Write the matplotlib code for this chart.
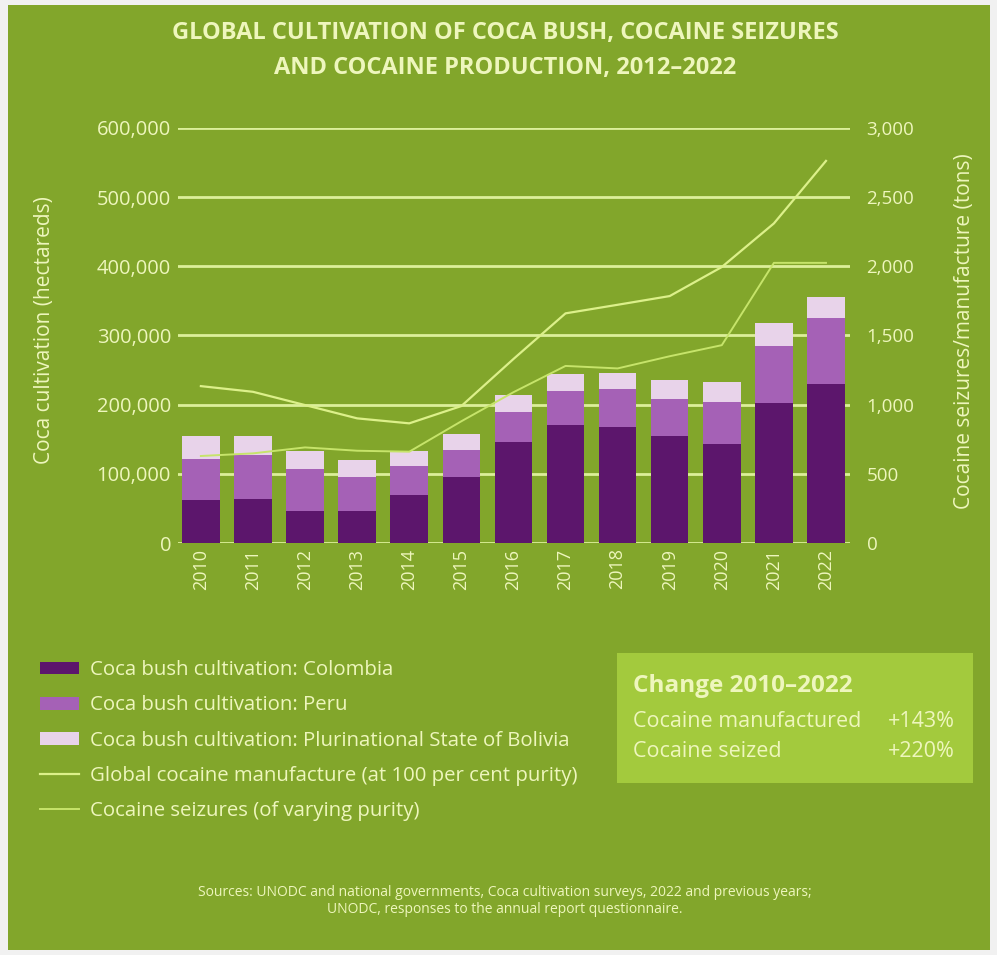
import numpy as np
import matplotlib
matplotlib.use("Agg")
import matplotlib.pyplot as plt
from matplotlib.patches import Patch, Rectangle
from matplotlib.lines import Line2D
from matplotlib.ticker import FuncFormatter

# ---- data ----
years = ["2010", "2011", "2012", "2013", "2014", "2015", "2016",
         "2017", "2018", "2019", "2020", "2021", "2022"]
colombia = [62000, 64000, 47000, 47000, 69000, 95000, 146000,
            170000, 168000, 154000, 143000, 203000, 230000]
peru = [60000, 63000, 60000, 49000, 43000, 40000, 43000,
        50000, 54000, 54000, 61000, 82000, 95000]
bolivia = [32000, 28000, 26000, 24000, 21000, 22000, 25000,
           25000, 24000, 27000, 29000, 33000, 30000]
manufacture = [1134, 1093, 997, 901, 865, 990, 1330,
               1660, 1722, 1785, 1995, 2310, 2762]
seizures = [629, 648, 691, 667, 660, 880, 1090,
            1280, 1262, 1350, 1430, 2025, 2025]

legend_labels = [
    "Coca bush cultivation: Colombia",
    "Coca bush cultivation: Peru",
    "Coca bush cultivation: Plurinational State of Bolivia",
    "Global cocaine manufacture (at 100 per cent purity)",
    "Cocaine seizures (of varying purity)",
]

# ---- style ----
BG = "#82a62b"
BOX = "#a3ca3d"
TXT = "#eef6bd"
GRID = "#dcef9a"
C_COL = "#5c166c"
C_PER = "#a561b6"
C_BOL = "#e8d3ea"
C_MAN = "#dcf08a"
C_SEI = "#c6e46a"

plt.rcParams["font.family"] = ["Open Sans", "DejaVu Sans"]

fig = plt.figure(figsize=(9.97, 9.55), dpi=100, facecolor="#f1f1f1")
fig.patches.append(Rectangle((0.008, 0.005), 0.985, 0.9895,
                             transform=fig.transFigure, facecolor=BG,
                             edgecolor="none", zorder=-2))

ax = fig.add_axes([0.1785, 0.4314, 0.674, 0.4346])
ax.patch.set_visible(False)
x = np.arange(len(years))
w = 0.72
col = np.array(colombia)
per = np.array(peru)
bol = np.array(bolivia)
ax.bar(x, col, width=w, color=C_COL, zorder=2)
ax.bar(x, per, width=w, bottom=col, color=C_PER, zorder=2)
ax.bar(x, bol, width=w, bottom=col + per, color=C_BOL, zorder=2)

ax.set_xlim(-0.44, 12.46)
ax.set_ylim(0, 600000)
ax.set_yticks(np.arange(0, 600001, 100000))
ax.yaxis.set_major_formatter(FuncFormatter(lambda v, p: f"{v:,.0f}"))
ax.grid(axis="y", color=GRID, linewidth=2, zorder=0)
ax.set_axisbelow(True)
ax.set_xticks(x)
ax.set_xticklabels(years, rotation=90, color=TXT, fontsize=13)
ax.tick_params(axis="both", length=0, colors=TXT)
ax.tick_params(axis="x", pad=4, labelsize=13)
ax.tick_params(axis="y", pad=5, labelsize=14.5)
for s in ax.spines.values():
    s.set_visible(False)
ax.set_ylabel("Coca cultivation (hectareds)", color=TXT, fontsize=15,
              va="center")
ax.yaxis.set_label_coords(-0.198, 0.513)

ax2 = ax.twinx()
ax2.plot(x, manufacture, color=C_MAN, linewidth=1.6, zorder=3)
ax2.plot(x, seizures, color=C_SEI, linewidth=1.4, zorder=3)
ax2.set_ylim(0, 3000)
ax2.set_yticks(np.arange(0, 3001, 500))
ax2.yaxis.set_major_formatter(FuncFormatter(lambda v, p: f"{v:,.0f}"))
ax2.tick_params(axis="y", length=0, colors=TXT, labelsize=13.5, pad=12)
for s in ax2.spines.values():
    s.set_visible(False)
ax2.set_ylabel("Cocaine seizures/manufacture (tons)", color=TXT, fontsize=15,
               va="center")
ax2.yaxis.set_label_coords(1.171, 0.51)

# ---- title ----
fig.text(0.507, 1 - 33 / 955, "GLOBAL CULTIVATION OF COCA BUSH, COCAINE SEIZURES",
         ha="center", va="center", color=TXT, fontsize=17, fontweight="bold")
fig.text(0.507, 1 - 68 / 955, "AND COCAINE PRODUCTION, 2012\u20132022",
         ha="center", va="center", color=TXT, fontsize=17, fontweight="bold")

# ---- legend ----
handles = [Patch(facecolor=C_COL), Patch(facecolor=C_PER), Patch(facecolor=C_BOL),
           Line2D([], [], color=C_MAN, linewidth=1.6),
           Line2D([], [], color=C_SEI, linewidth=1.4)]
leg = fig.legend(handles, legend_labels, loc="upper left",
                 bbox_to_anchor=(0.03, 1 - 650 / 955), frameon=False, fontsize=14.7,
                 handlelength=1.9, handleheight=0.6, handletextpad=0.55,
                 labelspacing=0.745, borderpad=0)
for t in leg.get_texts():
    t.set_color(TXT)

# ---- change box ----
fig.patches.append(Rectangle((617 / 997, 1 - 783 / 955), 356 / 997, 130 / 955,
                             transform=fig.transFigure, facecolor=BOX,
                             edgecolor="none", zorder=1))
fig.text(633 / 997, 1 - 686 / 955, "Change 2010\u20132022", color=TXT,
         fontsize=17.5, fontweight="bold", va="center", ha="left")
fig.text(633 / 997, 1 - 721 / 955, "Cocaine manufactured", color=TXT,
         fontsize=15.5, va="center", ha="left")
fig.text(955 / 997, 1 - 721 / 955, "+143%", color=TXT,
         fontsize=15.5, va="center", ha="right")
fig.text(633 / 997, 1 - 751 / 955, "Cocaine seized", color=TXT,
         fontsize=15.5, va="center", ha="left")
fig.text(955 / 997, 1 - 751 / 955, "+220%", color=TXT,
         fontsize=15.5, va="center", ha="right")

# ---- sources ----
fig.text(0.506, 1 - 901 / 955,
         "Sources: UNODC and national governments, Coca cultivation surveys, "
         "2022 and previous years;\nUNODC, responses to the annual report "
         "questionnaire.", ha="center", va="center", color=TXT, fontsize=10,
         linespacing=1.2)

fig.savefig("out.png", dpi=100, facecolor=fig.get_facecolor())
